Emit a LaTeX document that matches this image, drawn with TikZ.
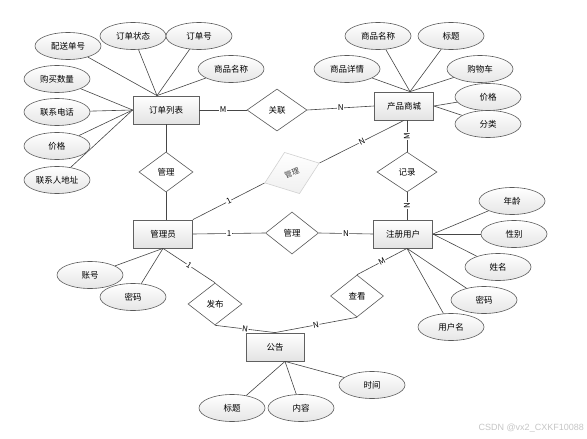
\documentclass[tikz,border=0pt]{standalone}
\usepackage{fontspec}
\setmainfont{Noto Sans CJK SC}
\newfontfamily\wmfont{Liberation Sans}
\usetikzlibrary{shapes.geometric,calc}
\begin{document}
\begin{tikzpicture}[x=1pt,y=-1pt,
  txt/.style={font=\fontsize{8.5}{10}\selectfont},
  ent/.style={txt, draw=gray!75!black, line width=0.8pt, rectangle, top color=white, bottom color=gray!22, minimum width=59pt, minimum height=28pt, inner sep=0pt},
  attr/.style={txt, draw=gray!70!black, line width=0.6pt, ellipse, top color=white, bottom color=gray!20, minimum width=66pt, minimum height=27pt, inner sep=0pt},
  rel/.style={txt, draw=gray!70!black, line width=0.6pt, diamond, fill=white, minimum width=54pt, minimum height=42pt, inner sep=0pt},
  grel/.style={font=\fontsize{7.5}{9}\selectfont, draw=gray!35, line width=0.6pt, diamond, top color=white, bottom color=gray!12, minimum width=58pt, minimum height=44pt, inner sep=0pt, text=black!75},
  ln/.style={draw=gray!55!black, line width=0.6pt},
  lab/.style={fill=white, inner sep=0.6pt, font=\fontsize{8}{9}\selectfont}
]
\useasboundingbox[fill=white] (0,0) rectangle (587,439);

% entities
\node[ent, minimum width=66pt] (ddlb) at (166,110) {订单列表};
\node[ent] (cpsc) at (404,106) {产品商城};
\node[ent] (gly) at (163,234) {管理员};
\node[ent] (zcyh) at (403,234) {注册用户};
\node[ent, minimum width=58pt] (gg) at (275,347) {公告};

% attributes of 订单列表
\node[attr] (a1) at (68,46) {配送单号};
\node[attr] (a2) at (133,36) {订单状态};
\node[attr] (a3) at (199,36) {订单号};
\node[attr] (a4) at (231,69) {商品名称};
\node[attr] (a5) at (57,79) {购买数量};
\node[attr] (a6) at (57,112) {联系电话};
\node[attr] (a7) at (57,146) {价格};
\node[attr] (a8) at (57,180) {联系人地址};

% attributes of 产品商城
\node[attr] (b1) at (378,36) {商品名称};
\node[attr] (b2) at (451,36) {标题};
\node[attr] (b3) at (347,69) {商品详情};
\node[attr] (b4) at (480,69) {购物车};
\node[attr] (b5) at (488,97) {价格};
\node[attr] (b6) at (488,124) {分类};

% attributes of 注册用户
\node[attr] (c1) at (512,201) {年龄};
\node[attr] (c2) at (514,234) {性别};
\node[attr] (c3) at (498,267) {姓名};
\node[attr] (c4) at (484,300) {密码};
\node[attr] (c5) at (451,327) {用户名};

% attributes of 管理员
\node[attr] (d1) at (90,275) {账号};
\node[attr] (d2) at (133,297) {密码};

% attributes of 公告
\node[attr] (e1) at (232,408) {标题};
\node[attr] (e2) at (301,408) {内容};
\node[attr] (e3) at (372,385) {时间};

% relationships
\node[rel, minimum width=60pt] (r1) at (277,110) {关联};
\node[rel, minimum height=40pt] (r2) at (166,172) {管理};
\node[grel, rotate=20] (r3) at (292,173) {管理};
\node[rel, minimum width=60pt, minimum height=40pt] (r4) at (407,172) {记录};
\node[rel, minimum width=53pt] (r5) at (292,233) {管理};
\node[rel] (r6) at (215,304) {发布};
\node[rel, minimum width=53pt] (r7) at (357,296) {查看};

% connection points
\coordinate (ddT) at ([xshift=-9pt]ddlb.north);
\coordinate (cpT) at ([xshift=6pt]cpsc.north);
\coordinate (zcB) at ([xshift=4pt]zcyh.south);
\coordinate (ggB) at ([xshift=10pt]gg.south);

% attribute lines
\foreach \a in {a1,a2,a3,a4} \draw[ln] (ddT) -- (\a);
\foreach \a in {a5,a6,a7,a8} \draw[ln] (ddlb.west) -- (\a);
\foreach \b in {b1,b2,b3,b4} \draw[ln] (cpT) -- (\b);
\foreach \b in {b5,b6} \draw[ln] (cpsc.east) -- (\b);
\foreach \c in {c1,c2,c3} \draw[ln] (zcyh.east) -- (\c);
\foreach \c in {c4,c5} \draw[ln] (zcB) -- (\c);
\foreach \d in {d1,d2} \draw[ln] (gly.south) -- (\d);
\foreach \e in {e1,e2,e3} \draw[ln] (ggB) -- (\e);

% relationship lines
\draw[ln] (ddlb.east) -- node[lab]{M} (r1.west);
\draw[ln] (r1.east) -- node[lab]{N} (cpsc.west);
\draw[ln] (r2.north) -- (r2.north |- ddlb.south);
\draw[ln] (r2.south) -- (r2.south |- gly.north);
\draw[ln] (gly.north east) -- node[lab,sloped]{1} (r3.west);
\draw[ln] (r3.east) -- node[lab,sloped]{N} (cpsc.south);
\draw[ln] (r4.north) -- node[lab,rotate=90]{M} (r4.north |- cpsc.south);
\draw[ln] (r4.south) -- node[lab,rotate=90]{N} (r4.south |- zcyh.north);
\draw[ln] (gly.east) -- node[lab]{1} (r5.west);
\draw[ln] (r5.east) -- node[lab]{N} (zcyh.west);
\draw[ln] (gly.south) -- node[lab,sloped]{1} (r6.north);
\draw[ln] (r6.south) -- node[lab,sloped]{N} (gg.north);
\draw[ln] (zcB) -- node[lab,sloped]{M} (r7.north);
\draw[ln] (r7.south) -- node[lab,sloped]{N} (gg.north);

% watermark
\node[font=\wmfont\fontsize{9}{10}\selectfont, text=gray!45, anchor=east, inner sep=0pt] (wm) at (584,428) {CSDN @vx2\_CXKF10088};
\end{tikzpicture}
\end{document}
